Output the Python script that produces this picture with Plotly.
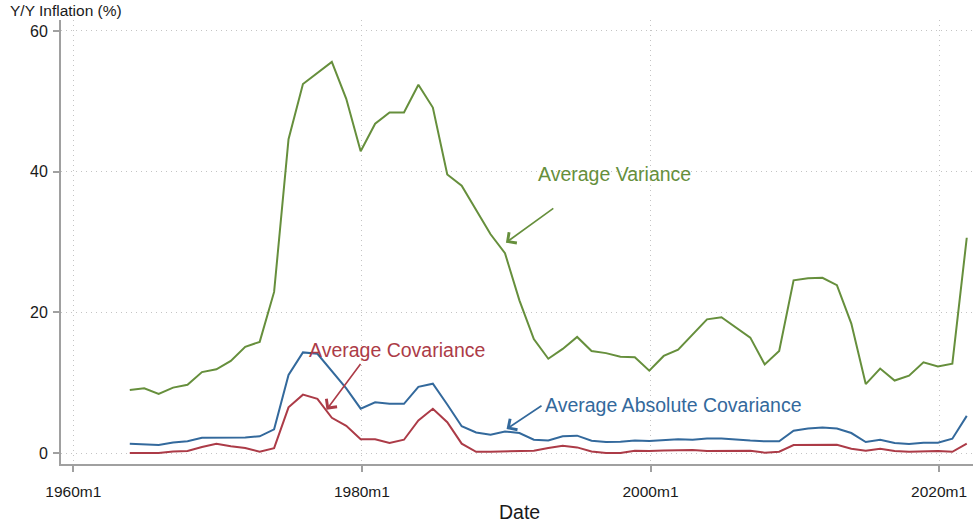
import plotly.graph_objects as go

# Annual observations, taken each December (1963m12 ... 2021m12)
years = list(range(1963, 2022))

avg_variance = [
    8.95, 9.2, 8.4, 9.3, 9.7, 11.5, 11.9, 13.1, 15.1, 15.8,
    22.9, 44.6, 52.45, 54.0, 55.6, 50.35, 42.9, 46.8, 48.4, 48.4,
    52.35, 49.1, 39.6, 38.0, 34.6, 31.1, 28.4, 21.7, 16.2, 13.4,
    14.8, 16.5, 14.5, 14.2, 13.7, 13.6, 11.7, 13.8, 14.7, 16.9,
    19.0, 19.3, 17.8, 16.4, 12.6, 14.5, 24.55, 24.85, 24.9, 23.85,
    18.4, 9.8, 12.0, 10.3, 11.0, 12.9, 12.3, 12.7, 30.6,
]

avg_abs_cov = [
    1.33, 1.27, 1.13, 1.5, 1.67, 2.17, 2.17, 2.17, 2.22, 2.37,
    3.37, 11.1, 14.3, 14.1, 11.7, 9.2, 6.3, 7.2, 7.0, 7.0,
    9.4, 9.85, 6.9, 3.8, 2.93, 2.6, 3.07, 2.84, 1.89, 1.77,
    2.37, 2.47, 1.75, 1.57, 1.62, 1.77, 1.71, 1.89, 1.97, 1.89,
    2.07, 2.07, 1.87, 1.77, 1.67, 1.67, 3.17, 3.47, 3.63, 3.47,
    2.84, 1.57, 1.89, 1.42, 1.27, 1.47, 1.47, 2.03, 5.28,
]

avg_cov = [
    0.02, 0.02, 0.0, 0.2, 0.28, 0.85, 1.33, 0.95, 0.7, 0.18,
    0.7, 6.5, 8.3, 7.7, 5.0, 3.87, 1.97, 1.97, 1.42, 1.89,
    4.63, 6.28, 4.38, 1.33, 0.18, 0.18, 0.23, 0.28, 0.33, 0.7,
    1.03, 0.8, 0.23, 0.0, 0.02, 0.33, 0.28, 0.36, 0.36, 0.42,
    0.28, 0.28, 0.33, 0.33, 0.05, 0.18, 1.13, 1.13, 1.18, 1.18,
    0.62, 0.33, 0.62, 0.28, 0.18, 0.28, 0.28, 0.18, 1.33,
]

dates = [f"{y}-12-01" for y in years]

x_tick_vals = ["1960-01-01", "1980-01-01", "2000-01-01", "2020-01-01"]
x_tick_text = ["1960m1", "1980m1", "2000m1", "2020m1"]
y_tick_vals = [0, 20, 40, 60]

GREEN = "#668F3C"
BLUE = "#33699C"
RED = "#AC3B47"
FONT = "Liberation Sans, Arial, sans-serif"

fig = go.Figure()
for vals, color, name in [
    (avg_variance, GREEN, "Average Variance"),
    (avg_abs_cov, BLUE, "Average Absolute Covariance"),
    (avg_cov, RED, "Average Covariance"),
]:
    fig.add_trace(go.Scatter(
        x=dates, y=vals, mode="lines", name=name,
        line=dict(color=color, width=2),
        showlegend=False, hoverinfo="x+y",
    ))

# series labels
labels = [
    ("Average Variance", "1997-07-01", 39.7, GREEN),
    ("Average Covariance", "1982-06-15", 14.67, RED),
    ("Average Absolute Covariance", "2001-08-15", 6.86, BLUE),
]
for text, lx, ly, color in labels:
    fig.add_annotation(
        x=lx, y=ly, xref="x", yref="y", text=text, showarrow=False,
        xanchor="center", yanchor="middle",
        font=dict(family=FONT, size=19.5, color=color),
    )

# pointer arrows (head at x/y, tail at ax/ay)
arrows = [
    ("1989-12-25", 29.9, "1993-05-15", 34.94, GREEN),
    ("1977-07-20", 6.15, "1979-12-25", 12.87, RED),
    ("1990-01-10", 3.41, "1992-07-20", 6.86, BLUE),
]
for hx, hy, tx, ty, color in arrows:
    fig.add_annotation(
        x=hx, y=hy, xref="x", yref="y",
        ax=tx, ay=ty, axref="x", ayref="y",
        text="", showarrow=True,
        arrowhead=4, arrowsize=1.6, arrowwidth=1.6, arrowcolor=color,
        standoff=0, startstandoff=0,
    )

# vertical axis caption
fig.add_annotation(
    text="Y/Y Inflation (%)", xref="paper", yref="paper",
    x=-0.058, y=1.0225, xanchor="left", yanchor="middle", showarrow=False,
    font=dict(family=FONT, size=15.5, color="#1a1a1a"),
)
# horizontal axis caption
fig.add_annotation(
    text="Date", xref="paper", yref="paper",
    x=0.503, y=-0.108, xanchor="center", yanchor="middle", showarrow=False,
    font=dict(family=FONT, size=19.5, color="#1a1a1a"),
)

fig.update_layout(
    width=973, height=527,
    margin=dict(l=61, r=0, t=20, b=63),
    paper_bgcolor="white", plot_bgcolor="white",
    font=dict(family=FONT, color="#1a1a1a"),
    showlegend=False,
)
grid_style = dict(showgrid=True, gridcolor="#C4C4C4", griddash="1px,4px", gridwidth=1)
fig.update_xaxes(
    type="date",
    range=["1959-02-24", "2022-05-08"],
    tickvals=x_tick_vals, ticktext=x_tick_text,
    ticks="outside", ticklen=6, tickwidth=1.5, tickcolor="#A0A0A0",
    tickfont=dict(family=FONT, size=15.5, color="#1a1a1a"),
    ticklabelstandoff=6,
    showline=True, linecolor="#A0A0A0", linewidth=2,
    zeroline=False, **grid_style,
)
fig.update_yaxes(
    range=[-1.56, 61.55],
    tickvals=y_tick_vals,
    ticks="outside", ticklen=6, tickwidth=1.5, tickcolor="#A0A0A0",
    tickfont=dict(family=FONT, size=16, color="#1a1a1a"),
    ticklabelstandoff=2,
    showline=True, linecolor="#A0A0A0", linewidth=2,
    zeroline=False, **grid_style,
)

fig.write_html("out.html")
